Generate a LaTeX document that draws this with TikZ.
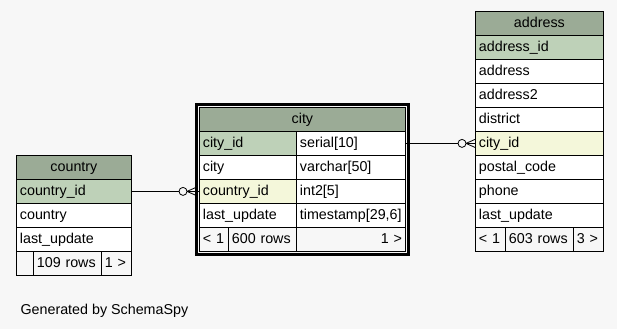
\documentclass[tikz,border=0pt]{standalone}
\usepackage{fontspec}
\setmainfont{Liberation Sans}
\usetikzlibrary{fit}

\definecolor{headbg}{HTML}{9BAB96}
\definecolor{keybg}{HTML}{BED1B8}
\definecolor{fkbg}{HTML}{F4F7DA}
\definecolor{pagebg}{HTML}{F7F7F7}

\tikzset{
  cell/.style={draw, line width=0.8pt, fill=white, anchor=north west,
    minimum height=24pt, inner xsep=3.5pt, inner ysep=0pt,
    text height=11pt, text depth=3pt, text width=#1pt, align=left},
  head/.style={fill=headbg, align=center},
  pk/.style={fill=keybg},
  fk/.style={fill=fkbg},
  plainrow/.style={},
  foot/.style={fill=pagebg},
}

\begin{document}
\begin{tikzpicture}[x=1pt,y=-1pt,font=\fontsize{14.3}{17}\selectfont]

\fill[pagebg] (0,0) rectangle (617,329);
\useasboundingbox (0,0) rectangle (617,329);

% country
\node[cell=108,head] (country) at (16,155) {country};
\node[cell=108,pk] (countryid) at (16,179) {country\_id};
\node[cell=108] (countryname) at (16,203) {country};
\node[cell=108] (countryupd) at (16,227) {last\_update};
\node[cell=10,foot] (countryf1) at (16,251) {};
\node[cell=61,foot] (countryf2) at (33,251) {109 rows};
\node[cell=23,foot] (countryf3) at (101,251) {1 >};

% city
\node[cell=199,head] (city) at (199,107) {city};
\foreach \nm/\txt/\typ/\st [count=\i] in {cityid/city\_id/serial[10]/pk, cityname/city/varchar[50]/plainrow, cityfk/country\_id/int2[5]/fk, cityupd/last\_update/timestamp[29{,}6]/plainrow}
{
\node[cell=90,\st] (\nm) at (199,107+24*\i) {\txt};
\node[cell=102] (\nm-t) at (296,107+24*\i) {\typ};
}
\node[cell=22,foot] (cityf1) at (199,227) {< 1};
\node[cell=61,foot] (cityf2) at (228,227) {600 rows};
\node[cell=102,foot,align=right] (cityf3) at (296,227) {1 >};
\node[draw, line width=2.5pt, inner sep=2.7pt, fit=(city)(cityf3)] (citybox) {};

% address
\node[cell=121,head] (address) at (475,11) {address};
\foreach \nm/\txt/\st [count=\i] in {addrid/address\_id/pk, addrname/address/plainrow, addr2/address2/plainrow, district/district/plainrow, addrfk/city\_id/fk, postal/postal\_code/plainrow, phone/phone/plainrow, addrupd/last\_update/plainrow}
{
\node[cell=121,\st] (\nm) at (475,11+24*\i) {\txt};
}
\node[cell=23,foot] (addrf1) at (475,227) {< 1};
\node[cell=61,foot] (addrf2) at (505,227) {603 rows};
\node[cell=23,foot] (addrf3) at (573,227) {3 >};

% relations, zero-or-many end at the child
\draw[line width=0.8pt] (countryid.east) -- (cityfk.west);
\draw[line width=0.8pt] (cityid-t.east) -- (addrfk.west);
\foreach \fk/\gap in {cityfk/3, addrfk/0}
{
\draw[line width=0.8pt] ([xshift=-\gap pt-9pt]\fk.west) -- ([xshift=-\gap pt,yshift=4pt]\fk.west)
  ([xshift=-\gap pt-9pt]\fk.west) -- ([xshift=-\gap pt]\fk.west)
  ([xshift=-\gap pt-9pt]\fk.west) -- ([xshift=-\gap pt,yshift=-4pt]\fk.west);
\draw[line width=0.8pt, fill=pagebg] ([xshift=-\gap pt-13pt]\fk.west) circle (4pt);
}

\node[anchor=base west] (credit) at (17,314) {Generated by SchemaSpy};

\end{tikzpicture}
\end{document}
